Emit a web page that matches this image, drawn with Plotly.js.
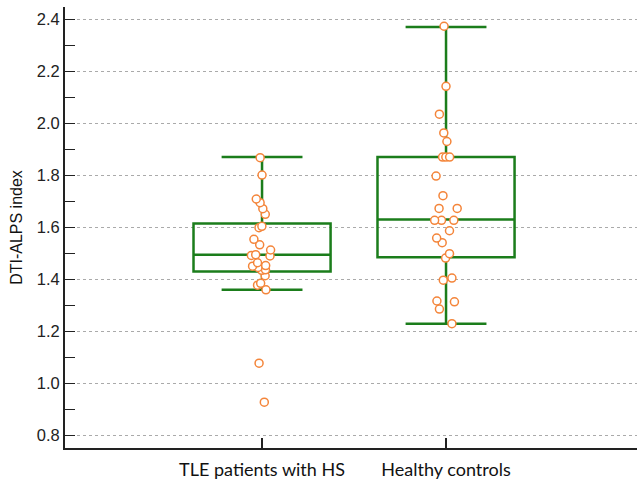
<!DOCTYPE html>
<html>
<head>
<meta charset="utf-8">
<script src="https://cdn.plot.ly/plotly-3.0.1.min.js"></script>
<style>html,body{margin:0;padding:0;background:#fff;}#chart{width:637px;height:481px;}</style>
</head>
<body>
<div id="chart"></div>
<script>
// Categories
var categories = ["TLE patients with HS", "Healthy controls"];

// Box statistics
var q1Values = [1.430, 1.485];
var medianValues = [1.495, 1.630];
var q3Values = [1.615, 1.870];
var lowerWhisker = [1.360, 1.230];
var upperWhisker = [1.870, 2.370];

// Individual observations
var tleValues = [1.868, 1.801, 1.709, 1.695, 1.672, 1.650, 1.604, 1.599, 1.554, 1.533,
  1.513, 1.495, 1.492, 1.490, 1.464, 1.453, 1.451, 1.446, 1.437, 1.435,
  1.414, 1.385, 1.378, 1.360, 1.078, 0.928];
var controlValues = [2.373, 2.142, 2.035, 1.963, 1.930, 1.870, 1.870, 1.870, 1.797, 1.722,
  1.673, 1.673, 1.627, 1.627, 1.627, 1.587, 1.559, 1.541, 1.499, 1.482,
  1.405, 1.397, 1.317, 1.314, 1.286, 1.230];

// Y tick values
var yTicks = [0.8, 1.0, 1.2, 1.4, 1.6, 1.8, 2.0, 2.2, 2.4];

var green = "#1b7d1b";
var orange = "#f4853a";

var traces = [
  {
    type: "box",
    x: categories,
    q1: q1Values,
    median: medianValues,
    q3: q3Values,
    lowerfence: lowerWhisker,
    upperfence: upperWhisker,
    boxpoints: false,
    width: 0.745,
    whiskerwidth: 0.59,
    line: {color: green, width: 2.5},
    fillcolor: "rgba(0,0,0,0)",
    hoverinfo: "skip",
    showlegend: false
  }
];

function pointsTrace(cat, vals) {
  return {
    type: "box",
    x: vals.map(function(){ return cat; }),
    y: vals,
    boxpoints: "all",
    jitter: 0.2,
    pointpos: 0,
    width: 0.745,
    line: {color: "rgba(0,0,0,0)", width: 0},
    fillcolor: "rgba(0,0,0,0)",
    marker: {symbol: "circle", size: 8, color: "rgba(255,255,255,1)", line: {color: orange, width: 1.5}},
    hoverinfo: "y",
    showlegend: false
  };
}
traces.push(pointsTrace(categories[0], tleValues));
traces.push(pointsTrace(categories[1], controlValues));

var layout = {
  width: 637,
  height: 481,
  margin: {l: 65, r: 0, t: 7, b: 33, pad: 0},
  paper_bgcolor: "#fff",
  plot_bgcolor: "#fff",
  showlegend: false,
  boxmode: "overlay",
  xaxis: {
    type: "category",
    range: [-1.071, 2.038],
    showline: true,
    linecolor: "#222",
    linewidth: 2,
    ticks: "inside",
    ticklen: 10,
    tickwidth: 1.2,
    tickcolor: "#222",
    showgrid: false,
    zeroline: false,
    ticklabelstandoff: 4,
    tickfont: {family: "Lato, 'Open Sans', sans-serif", size: 18, color: "#111"},
    automargin: false
  },
  yaxis: {
    range: [0.752, 2.447],
    tickvals: yTicks,
    ticktext: yTicks.map(function(v){ return v.toFixed(1); }),
    showline: true,
    linecolor: "#222",
    linewidth: 2,
    ticks: "inside",
    ticklen: 10,
    tickwidth: 1.2,
    tickcolor: "#222",
    minor: {dtick: 0.1, tick0: 0.7, ticks: "inside", ticklen: 10, tickwidth: 1.2, tickcolor: "#222", showgrid: false},
    showgrid: true,
    gridcolor: "#aaaaaa",
    gridwidth: 1,
    griddash: "dot",
    zeroline: false,
    tickfont: {family: "'Liberation Sans', Arial, sans-serif", size: 16.5, color: "#222"},
    title: {text: "DTI-ALPS index", font: {family: "'Liberation Sans', Arial, sans-serif", size: 16, color: "#111"}, standoff: 10},
    automargin: false
  }
};

Plotly.newPlot("chart", traces, layout, {displayModeBar: false, staticPlot: true});
</script>
</body>
</html>
